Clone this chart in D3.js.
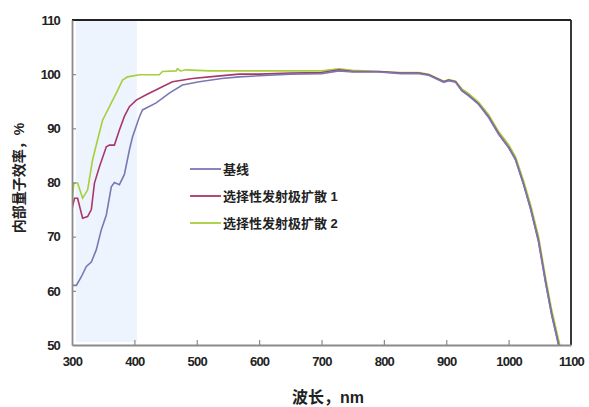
<!DOCTYPE html>
<html>
<head>
<meta charset="utf-8">
<script src="https://cdn.jsdelivr.net/npm/d3@7"></script>
<style>
  body { margin: 0; background: #fff; }
  svg { display: block; }
  text { font-family: "Liberation Sans", "Noto Sans CJK SC", sans-serif; fill: #222; }
</style>
</head>
<body>
<script>
// wavelength (nm) and internal quantum efficiency (%) per series
const baseNm = [300, 307, 315, 323, 331, 339, 347, 355, 363, 368, 376, 384, 392, 397, 408, 413, 435, 456, 477, 504, 540, 568, 600, 650, 700, 728, 750, 792, 828, 856, 872, 896, 904, 915, 925, 936, 952, 968, 984, 1000, 1011, 1024, 1035, 1048, 1059, 1069, 1080, 1085];
const baseVal = [61, 61, 62.6, 64.5, 65.3, 67.6, 71.3, 74, 79.2, 80, 79.6, 81.5, 86, 88.4, 92.1, 93.4, 94.7, 96.5, 98, 98.6, 99.2, 99.5, 99.7, 100, 100.1, 100.6, 100.4, 100.4, 100.1, 100.1, 99.8, 98.5, 98.8, 98.5, 96.9, 96, 94.4, 92, 88.9, 86.4, 84.2, 79.6, 75.2, 69, 61.6, 55.5, 50, 48];

const sel1Nm = [300, 301, 304, 309, 317, 325, 331, 336, 344, 355, 360, 368, 376, 384, 392, 403, 419, 440, 461, 493, 520, 568, 600, 650, 700, 728, 750, 792, 828, 856, 872, 896, 904, 915, 925, 936, 952, 968, 984, 1000, 1011, 1024, 1035, 1048, 1059, 1069, 1080, 1085];
const sel1Val = [75, 75.6, 77.1, 77.1, 73.4, 73.7, 75, 79.9, 82.9, 86.6, 86.9, 86.9, 89.7, 92.2, 94, 95.2, 96.2, 97.4, 98.6, 99.2, 99.5, 100, 100, 100.2, 100.3, 100.8, 100.5, 100.5, 100.2, 100.2, 99.9, 98.6, 98.9, 98.6, 97, 96.1, 94.5, 92.1, 89, 86.5, 84.3, 79.7, 75.3, 69.2, 61.8, 55.7, 50.2, 48];

const sel2Nm = [300, 301, 303, 309, 317, 325, 333, 341, 349, 360, 371, 381, 389, 408, 440, 445, 467, 469, 474, 483, 520, 568, 650, 700, 728, 750, 792, 828, 856, 872, 896, 904, 915, 925, 936, 952, 968, 984, 1000, 1011, 1024, 1035, 1048, 1059, 1069, 1080, 1086];
const sel2Val = [76, 77.4, 79.9, 79.9, 77.1, 78.6, 84.2, 87.9, 91.5, 94, 96.5, 98.9, 99.5, 99.9, 99.9, 100.5, 100.6, 101, 100.6, 100.8, 100.6, 100.6, 100.6, 100.6, 101, 100.7, 100.5, 100.3, 100.3, 100, 98.7, 99, 98.7, 97.3, 96.4, 94.8, 92.5, 89.4, 87, 84.8, 80.3, 76, 70, 62.6, 56.5, 51, 48];

const seriesNames = ['基线', '选择性发射极扩散 1', '选择性发射极扩散 2'];
const seriesColors = ['#7a78b4', '#a8386a', '#a6cf3a'];
const xTicks = [300, 400, 500, 600, 700, 800, 900, 1000, 1100];
const yTicks = [50, 60, 70, 80, 90, 100, 110];
const bandRange = [306, 404];

const W = 589, H = 407;
const plotL = 72, plotR = 571, plotT = 20, plotB = 345;

const svg = d3.select('body').append('svg')
  .attr('width', W).attr('height', H);

const x = d3.scaleLinear().domain([300, 1100]).range([plotL, plotR]);
const y = d3.scaleLinear().domain([50, 110]).range([plotB, plotT]);

svg.append('clipPath').attr('id', 'plot')
  .append('rect')
  .attr('x', plotL).attr('y', plotT)
  .attr('width', plotR - plotL).attr('height', plotB - plotT);

// shaded UV band
svg.append('rect')
  .attr('x', x(bandRange[0])).attr('y', plotT + 1)
  .attr('width', x(bandRange[1]) - x(bandRange[0]))
  .attr('height', plotB - plotT - 4)
  .attr('fill', '#edf4fd');

// lines
const line = d3.line().x((d) => x(d[0])).y((d) => y(d[1]));
const series = [
  d3.zip(baseNm, baseVal),
  d3.zip(sel1Nm, sel1Val),
  d3.zip(sel2Nm, sel2Val),
];
const g = svg.append('g').attr('clip-path', 'url(#plot)');
[2, 1, 0].forEach((i) => {
  g.append('path')
    .datum(series[i])
    .attr('d', line)
    .attr('fill', 'none')
    .attr('stroke', seriesColors[i])
    .attr('stroke-width', 1.6);
});

// frame
svg.append('line').attr('x1', plotL).attr('x2', plotR).attr('y1', plotT).attr('y2', plotT)
  .attr('stroke', '#222').attr('stroke-width', 1.8);
svg.append('line').attr('x1', plotR).attr('x2', plotR).attr('y1', plotT).attr('y2', plotB)
  .attr('stroke', '#222').attr('stroke-width', 1.8);

// axes
const xAxis = d3.axisBottom(x).tickValues(xTicks).tickFormat(d3.format('d'))
  .tickSizeInner(-5).tickSizeOuter(0).tickPadding(12);
const yAxis = d3.axisLeft(y).tickValues(yTicks).tickFormat(d3.format('d'))
  .tickSizeInner(-4).tickSizeOuter(0).tickPadding(12);

const gx = svg.append('g').attr('transform', `translate(0,${plotB})`).call(xAxis);
const gy = svg.append('g').attr('transform', `translate(${plotL},0)`).call(yAxis);
[gx, gy].forEach((a) => {
  a.select('.domain').attr('stroke', '#8a8a8a').attr('stroke-width', 1.8);
  a.selectAll('.tick line').attr('stroke', '#8a8a8a').attr('stroke-width', 1.2);
  a.selectAll('.tick text')
    .attr('font-size', 13).attr('font-weight', 'bold')
    .attr('letter-spacing', '-0.8px').attr('fill', '#222');
});
gx.selectAll('.tick line').filter((d) => d === 300 || d === 1100).remove();
gy.selectAll('.tick line').filter((d) => d === 50 || d === 110).remove();

// axis titles
svg.append('text')
  .attr('x', 328).attr('y', 403)
  .attr('text-anchor', 'middle')
  .attr('font-size', 16).attr('font-weight', 'bold')
  .text('波长，nm');

svg.append('text')
  .attr('transform', 'translate(24,178) rotate(-90)')
  .attr('text-anchor', 'middle')
  .attr('font-size', 14).attr('font-weight', 'bold')
  .text('内部量子效率，%');

// legend
const leg = svg.append('g').attr('transform', 'translate(190,169)');
seriesNames.forEach((name, i) => {
  const row = leg.append('g').attr('transform', `translate(0,${i * 27})`);
  row.append('line').attr('x1', 0).attr('x2', 31).attr('y1', 0).attr('y2', 0)
    .attr('stroke', seriesColors[i]).attr('stroke-width', 1.8);
  row.append('text').attr('x', 33).attr('y', 5)
    .attr('font-size', 13).attr('font-weight', 'bold')
    .text(name);
});
</script>
</body>
</html>
